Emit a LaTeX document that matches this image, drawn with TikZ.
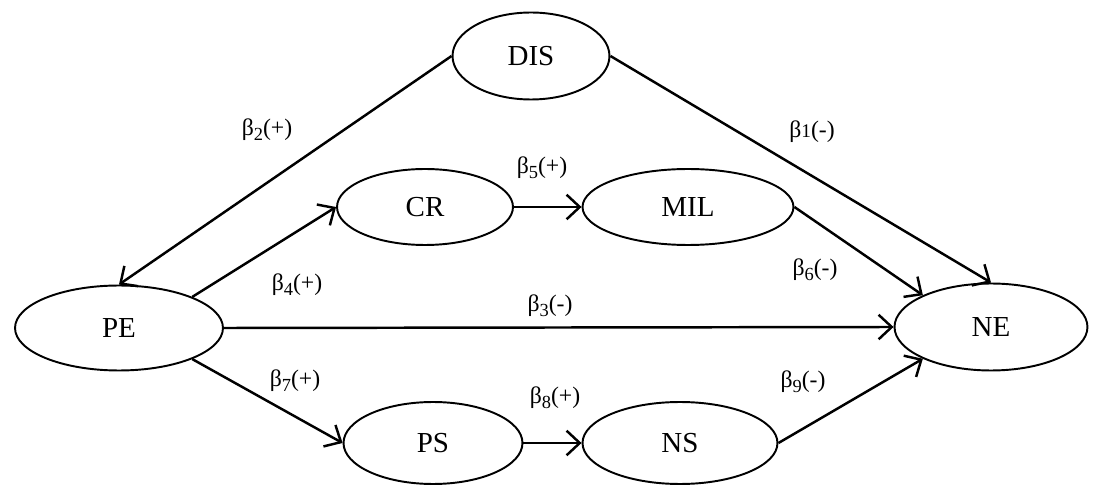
\documentclass[tikz,border=0pt]{standalone}
\usepackage{fontspec}
\setmainfont{Liberation Serif}
\usetikzlibrary{shapes.geometric,arrows.meta}
\newcommand{\bsub}[1]{β\raisebox{-0.45ex}{\fontsize{10.5}{12}\selectfont #1}}

\begin{document}
\begin{tikzpicture}[x=0.02cm,y=-0.02cm]
    \tikzstyle{var}=[ellipse,draw=black,line width=1.1pt,inner sep=0pt,font=\fontsize{16.5}{19}\selectfont]
    \tikzstyle{path}=[line width=1.4pt,-{Straight Barb[length=7.5pt,width=14pt,line width=1.4pt]}]
    \tikzstyle{coef}=[font=\fontsize{13.5}{16}\selectfont,inner sep=1pt]
    \useasboundingbox (0,0) rectangle (1093,486);
    \node (dis)[var,minimum width=3.14cm,minimum height=1.74cm] at (531,56)  {DIS};
    \node (cr)[var,minimum width=3.52cm,minimum height=1.52cm]  at (425,207) {CR};
    \node (mil)[var,minimum width=4.22cm,minimum height=1.52cm] at (688,207) {MIL};
    \node (pe)[var,minimum width=4.16cm,minimum height=1.70cm]  at (119,328) {PE};
    \node (ne)[var,minimum width=3.86cm,minimum height=1.74cm]  at (991,327) {NE};
    \node (ps)[var,minimum width=3.58cm,minimum height=1.64cm]  at (433,443) {PS};
    \node (ns)[var,minimum width=3.90cm,minimum height=1.64cm]  at (680,443) {NS};
    \draw[path] (dis.west) -- (pe.north);
    \draw[path] (dis.east) -- (ne.north);
    \draw[path] (pe.23)    -- (cr.west);
    \draw[path] (cr.east)  -- (mil.west);
    \draw[path] (mil.east) -- (ne.155);
    \draw[path] (pe.east)  -- (ne.west);
    \draw[path] (pe.-23)   -- (ps.west);
    \draw[path] (ps.east)  -- (ns.west);
    \draw[path] (ns.east)  -- (ne.205);
    \node (b2)[coef] at (267,130) {\bsub{2}(+)};
    \node (b1)[coef] at (812,132) {β{\fontsize{11}{13}\selectfont 1}(-)};
    \node (b5)[coef] at (542,168) {\bsub{5}(+)};
    \node (b4)[coef] at (297,285) {\bsub{4}(+)};
    \node (b6)[coef] at (815,270) {\bsub{6}(-)};
    \node (b3)[coef] at (550,306) {\bsub{3}(-)};
    \node (b7)[coef] at (295,381) {\bsub{7}(+)};
    \node (b8)[coef] at (555,398) {\bsub{8}(+)};
    \node (b9)[coef] at (803,382) {\bsub{9}(-)};
\end{tikzpicture}
\end{document}
